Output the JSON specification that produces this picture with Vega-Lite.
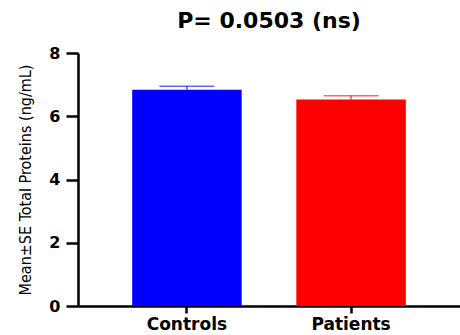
{
  "$schema": "https://vega.github.io/schema/vega-lite/v6.json",
  "autosize": {"type": "none"},
  "width": 382,
  "height": 253,
  "padding": {"left": 78, "top": 53, "right": 0, "bottom": 29},
  "background": "white",
  "title": {"text": "P= 0.0503 (ns)", "font": "DejaVu Sans", "fontSize": 22, "fontWeight": "bold", "color": "black", "anchor": "middle", "offset": 12},
  "data": {"values": [
    {"group": "Controls", "mean": 6.84, "upper": 6.95},
    {"group": "Patients", "mean": 6.53, "upper": 6.65}
  ]},
  "config": {"view": {"stroke": null}},
  "encoding": {
    "x": {"field": "group", "type": "nominal", "sort": null,
      "scale": {"paddingInner": 0.333, "paddingOuter": 0.33},
      "axis": {"title": null, "labelAngle": 0, "labelFont": "DejaVu Sans", "labelFontSize": 17, "labelFontWeight": "bold", "labelColor": "black", "labelPadding": 3, "domainColor": "black", "domainWidth": 2.5, "tickColor": "black", "tickWidth": 2.5, "tickSize": 7}
    }
  },
  "layer": [
    {
      "mark": {"type": "bar"},
      "encoding": {
        "y": {"field": "mean", "type": "quantitative",
          "scale": {"domain": [0, 8]},
          "axis": {"title": "Mean±SE Total Proteins (ng/mL)", "values": [0, 2, 4, 6, 8], "grid": false, "titleFont": "DejaVu Sans Condensed", "titleFontSize": 16, "titleFontWeight": "normal", "titleColor": "black", "titlePadding": 15, "labelFont": "DejaVu Sans", "labelFontSize": 16, "labelFontWeight": "bold", "labelColor": "black", "labelPadding": 6, "domainColor": "black", "domainWidth": 2.5, "tickColor": "black", "tickWidth": 2.5, "tickSize": 12}
        },
        "color": {"field": "group", "type": "nominal", "scale": {"domain": ["Controls", "Patients"], "range": ["#0000FF", "#FF0000"]}, "legend": null}
      }
    },
    {
      "mark": {"type": "rule", "strokeWidth": 1.5, "opacity": 0.7},
      "encoding": {
        "y": {"field": "mean", "type": "quantitative"},
        "y2": {"field": "upper"},
        "color": {"field": "group", "type": "nominal", "legend": null}
      }
    },
    {
      "mark": {"type": "tick", "size": 55, "thickness": 1.5, "opacity": 0.6},
      "encoding": {
        "y": {"field": "upper", "type": "quantitative"},
        "color": {"field": "group", "type": "nominal", "legend": null}
      }
    }
  ]
}
